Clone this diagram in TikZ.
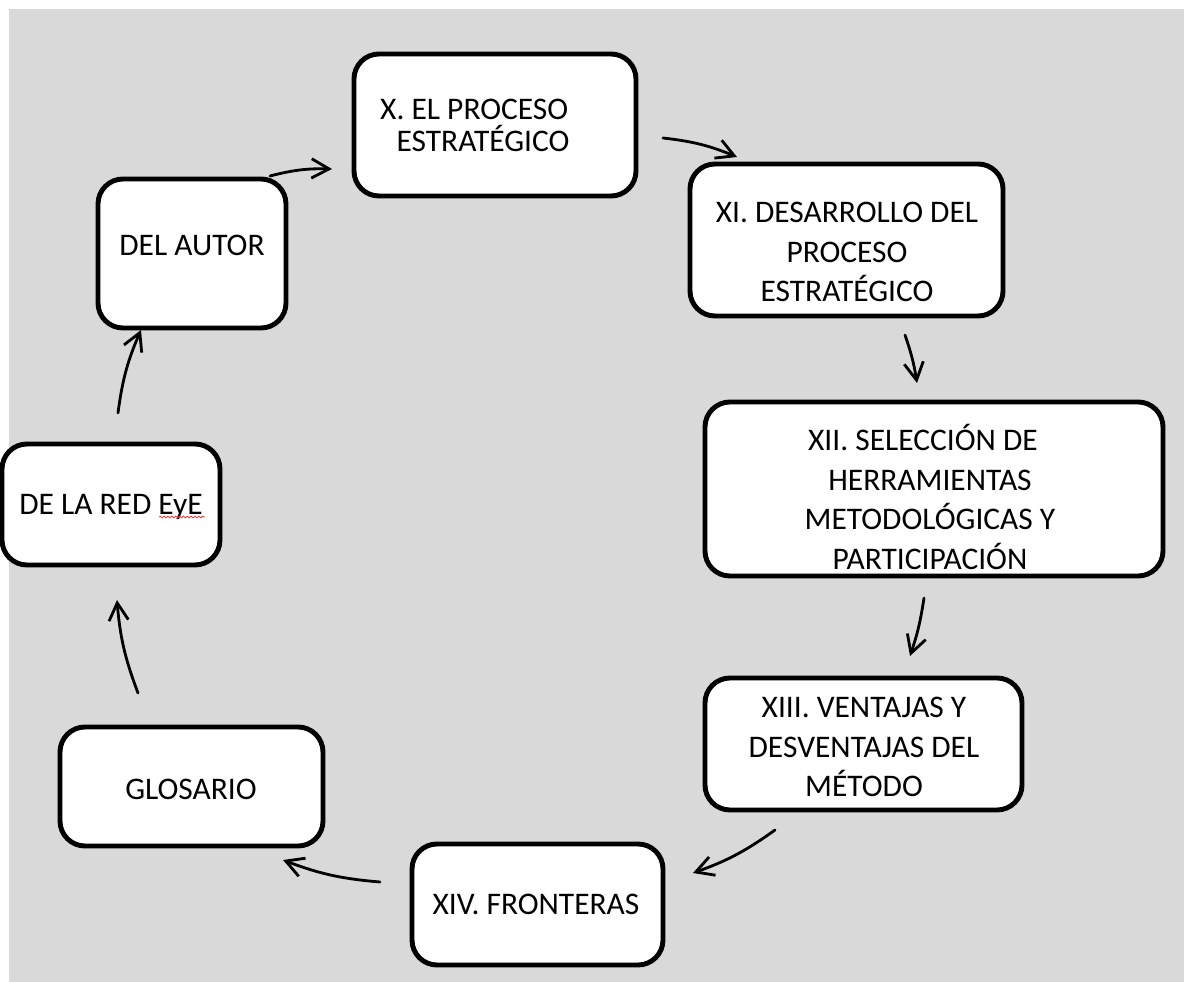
\documentclass[tikz,border=0pt]{standalone}
\usepackage{fontspec}
\setmainfont{Carlito}
\usetikzlibrary{arrows.meta,fit,decorations.pathmorphing}
\definecolor{bggray}{RGB}{217,217,217}
\tikzset{
  box/.style={draw=black, line width=2.8pt, rounded corners=0.5cm, fill=white, inner sep=0pt},
  txt/.style={align=center, font=\fontsize{17.9pt}{22.7pt}\selectfont, inner sep=0pt},
  flow/.style={line width=1.6pt, line cap=round, -{Straight Barb[length=10pt,width=11pt,line width=1.6pt]}},
}
\begin{document}
\begin{tikzpicture}[x=0.02cm,y=-0.02cm]
\useasboundingbox (0,0) rectangle (1184,982);
\fill[bggray] (9,9) rectangle (1184,982);
% boxes
\node[box, fit={(354,54) (636,196)}] (bx) {};
\node[box, fit={(98,179) (286,328)}] (ba) {};
\node[box, fit={(690,164) (1003,316)}] (bxi) {};
\node[box, fit={(705,402) (1163,576)}] (bxii) {};
\node[box, fit={(705,678) (1022,810)}] (bxiii) {};
\node[box, fit={(412,844) (663,965)}] (bxiv) {};
\node[box, fit={(60,727) (323,846)}] (bg) {};
\node[box, fit={(2,444) (220,565)}] (br) {};
% texts
\node[txt, font=\fontsize{17.9pt}{18.3pt}\selectfont] (tx) at (483,125) {X. EL PROCESO\hspace*{10pt}\\ESTRATÉGICO};
\node[txt] (ta) at (192,245) {DEL AUTOR};
\node[txt] (txi) at (847,252) {XI. DESARROLLO DEL\\PROCESO\\ESTRATÉGICO};
\node[txt] (txii) at (930,497) {XII. SELECCIÓN DE\hspace*{8pt}\\HERRAMIENTAS\\METODOLÓGICAS Y\\PARTICIPACIÓN};
\node[txt] (txiii) at (864,747) {XIII. VENTAJAS Y\\DESVENTAJAS DEL\\MÉTODO};
\node[txt] (txiv) at (536,904) {XIV. FRONTERAS};
\node[txt] (tg) at (191,789) {GLOSARIO};
\node[txt] (tr) at (111,507) {DE LA RED EyE};
\draw[red!80, line width=0.45pt, decorate, decoration={snake, amplitude=0.5pt, segment length=2.2pt}] (159,517) -- (205,517);
% arrow end points
\coordinate (a1s) at (270,176); \coordinate (a1e) at (332,169);
\coordinate (a2s) at (663,138); \coordinate (a2e) at (737,157);
\coordinate (a3s) at (905,335); \coordinate (a3e) at (917,383);
\coordinate (a4s) at (924,598); \coordinate (a4e) at (910,656);
\coordinate (a5s) at (775,830); \coordinate (a5e) at (693,873);
\coordinate (a6s) at (380,882); \coordinate (a6e) at (283,860);
\coordinate (a7s) at (138,693); \coordinate (a7e) at (117,600);
\coordinate (a8s) at (118,413); \coordinate (a8e) at (141,330);
\draw[flow] (a1s) to[bend left=8] (a1e);
\draw[flow] (a2s) to[bend left=8] (a2e);
\draw[flow] (a3s) to[bend left=5] (a3e);
\draw[flow] (a4s) to[bend left=5] (a4e);
\draw[flow] (a5s) to[bend left=8] (a5e);
\draw[flow] (a6s) to[bend left=8] (a6e);
\draw[flow] (a7s) to[bend left=8] (a7e);
\draw[flow] (a8s) to[bend left=8] (a8e);
\end{tikzpicture}
\end{document}
